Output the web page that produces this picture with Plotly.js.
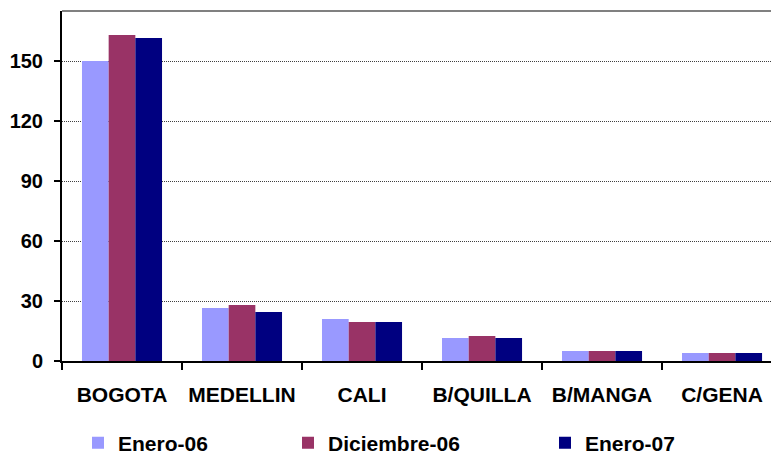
<!DOCTYPE html>
<html>
<head>
<meta charset="utf-8">
<script src="https://cdn.plot.ly/plotly-3.0.1.min.js"></script>
<style>html,body{margin:0;padding:0;background:#fff;overflow:hidden}</style>
</head>
<body>
<div id="chart" style="width:771px;height:454px"></div>
<script>
const categories = ["BOGOTA", "MEDELLIN", "CALI", "B/QUILLA", "B/MANGA", "C/GENA"];
const enero06 = [150, 26.5, 21, 11.5, 5, 4];
const diciembre06 = [163, 28, 19.5, 12.5, 5, 4];
const enero07 = [161.5, 24.5, 19.5, 11.5, 5, 4];
const yTicks = [0, 30, 60, 90, 120, 150];

const W = 771, H = 454;
const family = '"Liberation Sans", Arial, sans-serif';
const yFont = {family: family, size: 20, color: '#000', weight: 'bold'};
const xFont = {family: family, size: 21, color: '#000', weight: 'bold'};

const traces = [
  {type: 'bar', name: 'Enero-06', x: categories, y: enero06, marker: {color: '#9999FF'}, legend: 'legend'},
  {type: 'bar', name: 'Diciembre-06', x: categories, y: diciembre06, marker: {color: '#993366'}, legend: 'legend2'},
  {type: 'bar', name: 'Enero-07', x: categories, y: enero07, marker: {color: '#000080'}, legend: 'legend3'}
];

function leg(px) {
  return {xref: 'container', yref: 'container', x: px / W, y: 1 - 443 / H,
          xanchor: 'left', yanchor: 'middle',
          font: {family: family, size: 21, color: '#000', weight: 'bold'},
          bgcolor: 'rgba(0,0,0,0)'};
}

const layout = {
  width: W, height: H,
  margin: {l: 62, r: 0, t: 11, b: 93, autoexpand: false},
  paper_bgcolor: '#fff', plot_bgcolor: '#fff',
  font: yFont,
  barmode: 'group', bargap: 0.333, bargroupgap: 0,
  showlegend: true,
  legend: leg(78), legend2: leg(288), legend3: leg(545),
  xaxis: {
    type: 'category', range: [-0.5, 5.408], automargin: false,
    showline: true, linecolor: '#000', linewidth: 2,
    ticks: 'outside', tickson: 'boundaries', ticklen: 7, tickcolor: '#000', tickwidth: 2,
    tickfont: xFont, tickangle: 0,
    ticklabelstandoff: 14,
    showgrid: false, zeroline: false
  },
  yaxis: {
    range: [0, 175], tickvals: yTicks, ticktext: yTicks.map(String), automargin: false,
    showline: true, linecolor: '#000', linewidth: 2,
    ticks: 'outside', ticklen: 6, tickcolor: '#000', tickwidth: 2,
    tickfont: yFont,
    ticklabelstandoff: 7,
    showgrid: true, gridcolor: '#404040', gridwidth: 1, griddash: '1px,1px',
    zeroline: false
  },
  shapes: [
    {type: 'line', xref: 'paper', yref: 'paper', x0: 0, x1: 1, y0: 1, y1: 1,
     line: {color: '#808080', width: 2}}
  ]
};

Plotly.newPlot('chart', traces, layout, {displayModeBar: false, staticPlot: true});
</script>
</body>
</html>
